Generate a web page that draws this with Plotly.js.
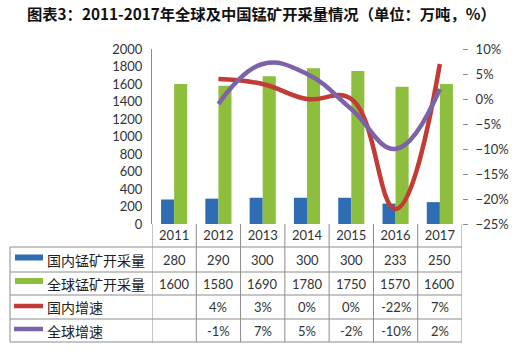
<!DOCTYPE html>
<html><head><meta charset="utf-8">
<script src="https://cdn.plot.ly/plotly-3.0.1.min.js"></script>
<style>html,body{margin:0;padding:0;background:#fff;}#chart{width:516px;height:351px;}</style>
</head><body><div id="chart"></div>
<script>
const years = ['2011','2012','2013','2014','2015','2016','2017'];
const domestic = [280, 290, 300, 300, 300, 233, 250];
const globalOut = [1600, 1580, 1690, 1780, 1750, 1570, 1600];
const domesticGrowth = [null, 4, 3, 0, 0, -22, 7];
const globalGrowth = [null, -1, 7, 5, -2, -10, 2];
const seriesNames = ['国内锰矿开采量', '全球锰矿开采量', '国内增速', '全球增速'];
const titleText = '图表3：2011-2017年全球及中国锰矿开采量情况（单位：万吨，%）';

const W = 516, H = 351;
const L = 152, R = 462, T = 49, B = 224;
const pw = R - L, ph = B - T;
const px = p => (p - L) / pw;
const py = p => (B - p) / ph;

const colors = ['#2E6DB4', '#8DBE3E', '#C23B35', '#7C62A8'];

const traces = [
  {type:'bar', x: years, y: domestic, name: seriesNames[0], marker:{color: colors[0]}, yaxis:'y'},
  {type:'bar', x: years, y: globalOut, name: seriesNames[1], marker:{color: colors[1]}, yaxis:'y'},
  {type:'scatter', mode:'lines', x: years, y: domesticGrowth, name: seriesNames[2], yaxis:'y2',
   line:{color: colors[2], width:4.5, shape:'spline', smoothing:1.2}, connectgaps:false},
  {type:'scatter', mode:'lines', x: years, y: globalGrowth, name: seriesNames[3], yaxis:'y2',
   line:{color: colors[3], width:4.5, shape:'spline', smoothing:1.2}, connectgaps:false}
];

const gridColor = '#8c8c8c';
const rowLines = [247, 272, 295, 319, 342];
const rowCenters = [259.5, 283.5, 307, 330.5];
const shapes = [];
rowLines.forEach(p => shapes.push({type:'line', xref:'paper', yref:'paper', x0: px(10), x1: 1, y0: py(p), y1: py(p), line:{color: gridColor, width:1}}));
for (let i = 0; i <= years.length; i++) {
  shapes.push({type:'line', xref:'x', yref:'paper', x0: i - 0.5, x1: i - 0.5, y0: 0, y1: py(342), line:{color: gridColor, width:1}});
}
shapes.push({type:'line', xref:'paper', yref:'paper', x0: px(10), x1: px(10), y0: py(247), y1: py(342), line:{color: gridColor, width:1}});
shapes.push({type:'rect', xref:'paper', yref:'paper', x0: px(15), x1: px(43), y0: py(254.5), y1: py(260.5), fillcolor: colors[0], line:{width:0}});
shapes.push({type:'rect', xref:'paper', yref:'paper', x0: px(15), x1: px(43), y0: py(278), y1: py(284), fillcolor: colors[1], line:{width:0}});
shapes.push({type:'line', xref:'paper', yref:'paper', x0: px(14), x1: px(43), y0: py(306), y1: py(306), line:{color: colors[2], width:4.5}});
shapes.push({type:'line', xref:'paper', yref:'paper', x0: px(14), x1: px(43), y0: py(329), y1: py(329), line:{color: colors[3], width:4.5}});

const annotations = [];
const numFont = {family:'Lato, sans-serif', size:13, color:'#333'};
const fmtPct = v => (v === null ? '' : v + '%');
const rows = [domestic.map(String), globalOut.map(String), domesticGrowth.map(fmtPct), globalGrowth.map(fmtPct)];
rows.forEach((r, ri) => {
  annotations.push({xref:'paper', yref:'paper', x: px(45), y: py(rowCenters[ri]), xanchor:'left', yanchor:'middle',
    text: seriesNames[ri], showarrow:false, font:{family:'"Noto Sans CJK SC", sans-serif', size:14, color:'#222'}});
  r.forEach((v, ci) => {
    if (v === '') return;
    annotations.push({xref:'x', yref:'paper', x: ci, y: py(rowCenters[ri]), xanchor:'center', yanchor:'middle',
      text: v, showarrow:false, font: numFont});
  });
});

const layout = {
  width: W, height: H,
  margin: {l: L, r: W - R, t: T, b: H - B, pad: 0},
  paper_bgcolor:'#fff', plot_bgcolor:'rgba(0,0,0,0)',
  showlegend:false,
  title: {text: '<b>' + titleText + '</b>', x: 27 / W, xanchor:'left', y: 1 - 15 / H, yanchor:'middle',
    font:{family:'"Noto Sans CJK SC", sans-serif', size:15.3, color:'#111'}},
  barmode:'group', bargap:0.41, bargroupgap:0,
  xaxis: {type:'category', range:[-0.5, 6.5], showgrid:false, zeroline:false, showline:false, ticks:'',
    tickfont:{family:'Lato, sans-serif', size:13, color:'#333'}, ticklabelstandoff:2, fixedrange:true},
  yaxis: {range:[0, 2000], dtick:200, showgrid:false, zeroline:false, showline:true, linecolor:'#8c8c8c', linewidth:1,
    ticks:'', tickfont:{family:'Lato, sans-serif', size:13, color:'#333'}, ticklabelstandoff:6},
  yaxis2: {overlaying:'y', side:'right', range:[-25, 10], dtick:5, ticksuffix:'%', showgrid:false, zeroline:false,
    showline:false, ticks:'outside', ticklen:5, tickcolor:'#8c8c8c', ticklabelstandoff:5,
    tickfont:{family:'Lato, sans-serif', size:13, color:'#333'}},
  shapes: shapes,
  annotations: annotations
};

Plotly.newPlot('chart', traces, layout, {staticPlot:true, displayModeBar:false});
</script>
</body></html>
